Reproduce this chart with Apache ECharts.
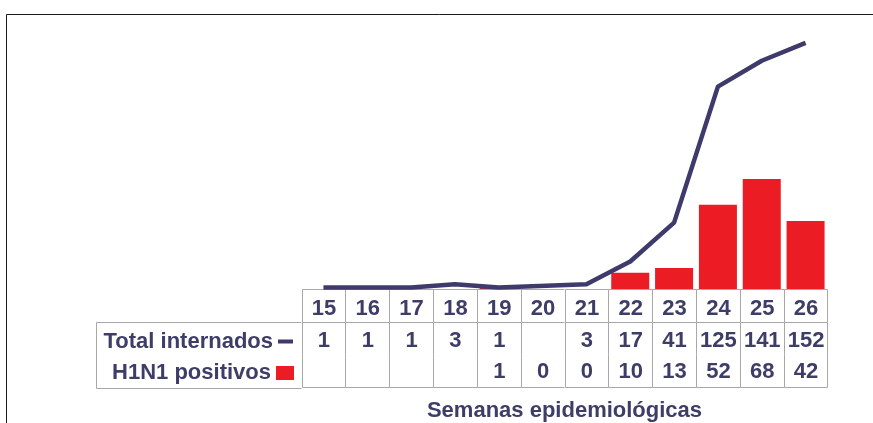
<!DOCTYPE html>
<html>
<head>
<meta charset="utf-8">
<script src="https://cdn.jsdelivr.net/npm/echarts@6/dist/echarts.min.js"></script>
<style>
html,body{margin:0;padding:0;background:#fff;}
#c{width:873px;height:423px;}
</style>
</head>
<body>
<div id="c"></div>
<script>
// ---- data ----
const weeks = ['15','16','17','18','19','20','21','22','23','24','25','26'];
const totalInternados = [1, 1, 1, 3, 1, null, 3, 17, 41, 125, 141, 152];
const h1n1Positivos = [null, null, null, null, 1, 0, 0, 10, 13, 52, 68, 42];
const rowNames = ['Semana', 'Total internados', 'H1N1 positivos'];
const xAxisTitle = 'Semanas epidemiológicas';

// ---- style ----
const FONT = '"Liberation Sans", Arial, sans-serif';
const TEXT = '#3d3d68';
const NAVY = '#3e3b6c';
const RED = '#ec1c24';
const GRID_L = 301.5, GRID_W = 526;

// table cells built from the arrays
const cells = [];
const cellText = [];
weeks.forEach((w, i) => {
  [w, totalInternados[i], h1n1Positivos[i]].forEach((v, r) => {
    cells.push([i, r]);
    cellText.push(v === null || v === undefined ? '' : String(v));
  });
});
const rowOffset = [3.5, 2.5, 1.5];

const chart = echarts.init(document.getElementById('c'), null, {renderer: 'canvas'});
chart.setOption({
  animation: false,
  backgroundColor: '#ffffff',
  grid: [
    {left: GRID_L, width: GRID_W, top: 30, bottom: 423 - 289},
    {left: GRID_L, width: GRID_W, top: 289, height: 99}
  ],
  xAxis: [
    {gridIndex: 0, type: 'category', data: weeks, show: false, boundaryGap: true},
    {gridIndex: 1, type: 'category', data: weeks, boundaryGap: true,
     axisLine: {show: false}, axisTick: {show: false}, axisLabel: {show: false},
     splitLine: {show: false},
     name: xAxisTitle, nameLocation: 'middle', nameGap: 13,
     nameTextStyle: {fontFamily: FONT, fontWeight: 'bold', fontSize: 22, color: TEXT, verticalAlign: 'top', lineHeight: 22}}
  ],
  yAxis: [
    {gridIndex: 0, type: 'value', min: 0, max: 160, show: false},
    {gridIndex: 1, type: 'category', data: rowNames, inverse: true, show: false}
  ],
  legend: [
    {data: [{name: 'Total internados', icon: 'rect'}], orient: 'vertical', align: 'right',
     right: 873 - 293, top: 330.5, padding: 0, itemWidth: 15, itemHeight: 4, itemGap: 0,
     textStyle: {fontFamily: FONT, fontWeight: 'bold', fontSize: 22, color: TEXT, lineHeight: 22}},
    {data: [{name: 'H1N1 positivos', icon: 'rect'}], orient: 'vertical', align: 'right',
     right: 873 - 294, top: 362, padding: 0, itemWidth: 18, itemHeight: 14, itemGap: 0,
     textStyle: {fontFamily: FONT, fontWeight: 'bold', fontSize: 22, color: TEXT, lineHeight: 22}}
  ],
  graphic: [
    // outer frame (top and left edges)
    {type: 'line', shape: {x1: 6.5, y1: 14.5, x2: 873, y2: 14.5}, style: {stroke: '#1a1a1a', lineWidth: 1}, silent: true},
    {type: 'line', shape: {x1: 6.5, y1: 14.5, x2: 6.5, y2: 423}, style: {stroke: '#1a1a1a', lineWidth: 1}, silent: true},
    // label-column borders of the data table
    {type: 'line', shape: {x1: 96.5, y1: 322.5, x2: GRID_L, y2: 322.5}, style: {stroke: '#a8a8a8', lineWidth: 1}, silent: true},
    {type: 'line', shape: {x1: 96.5, y1: 388.5, x2: GRID_L, y2: 388.5}, style: {stroke: '#a8a8a8', lineWidth: 1}, silent: true},
    {type: 'line', shape: {x1: 96.5, y1: 322.5, x2: 96.5, y2: 388.5}, style: {stroke: '#a8a8a8', lineWidth: 1}, silent: true}
  ],
  series: [
    {name: 'H1N1 positivos', type: 'bar', xAxisIndex: 0, yAxisIndex: 0, data: h1n1Positivos,
     barWidth: 38, itemStyle: {color: RED}, z: 2},
    {name: 'Total internados', type: 'line', xAxisIndex: 0, yAxisIndex: 0, data: totalInternados,
     connectNulls: true, symbol: 'none', smooth: false,
     lineStyle: {color: NAVY, width: 4.5, join: 'round', cap: 'butt'}, itemStyle: {color: NAVY}, z: 3},
    {name: 'tabla', type: 'custom', xAxisIndex: 1, yAxisIndex: 1, data: cells, silent: true,
     renderItem: function (params, api) {
       const c = api.value(0), r = api.value(1);
       const p = api.coord([c, r]);
       const s = api.size([1, 1]);
       const x0 = Math.round(p[0] - s[0] / 2) + 0.5, x1 = Math.round(p[0] + s[0] / 2) + 0.5;
       const y0 = Math.round(p[1] - s[1] / 2) + 0.5, y1 = Math.round(p[1] + s[1] / 2) + 0.5;
       const ls = {stroke: '#a8a8a8', lineWidth: 1};
       const ch = [
         {type: 'line', shape: {x1: x0, y1: y0, x2: x0, y2: y1}, style: ls},
         {type: 'text', style: {x: p[0] + 0.5, y: p[1] + rowOffset[r], text: cellText[params.dataIndex],
           textAlign: 'center', textVerticalAlign: 'middle',
           font: 'bold 22px ' + FONT, fill: TEXT}}
       ];
       if (c === weeks.length - 1) ch.push({type: 'line', shape: {x1: x1, y1: y0, x2: x1, y2: y1}, style: ls});
       if (r === 0) ch.push({type: 'line', shape: {x1: x0, y1: y0, x2: x1, y2: y0}, style: ls});
       if (r === 0 || r === 2) ch.push({type: 'line', shape: {x1: x0, y1: y1, x2: x1, y2: y1}, style: ls});
       return {type: 'group', children: ch};
     }}
  ]
});
</script>
</body>
</html>
